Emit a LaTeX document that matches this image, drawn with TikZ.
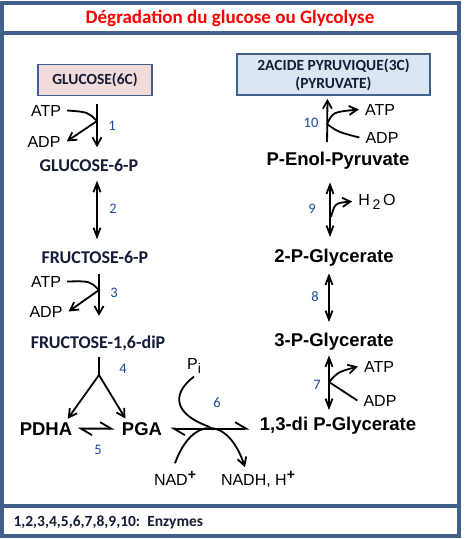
\documentclass[tikz,border=0pt]{standalone}
\usepackage{fontspec}
\setmainfont{Carlito}
\newfontfamily\arialfont{Liberation Sans}
\usetikzlibrary{arrows.meta,positioning}
\definecolor{framecol}{RGB}{65,96,140}
\definecolor{glcfill}{RGB}{242,220,219}
\definecolor{pyrfill}{RGB}{220,230,242}
\definecolor{enzcol}{RGB}{31,73,150}
\definecolor{molcol}{RGB}{20,28,55}
\newcommand{\supplus}{\raisebox{6pt}{\bfseries\fontsize{14}{14}\selectfont +}}
\newcommand{\lowsub}[1]{\raisebox{-4pt}{\fontsize{14}{14}\selectfont #1}}

\begin{document}
\begin{tikzpicture}[x=1pt, y=-1pt,
  frame/.style={draw=framecol, line width=3.5pt},
  titletext/.style={font=\fontsize{19}{22}\selectfont\bfseries, text=red},
  box/.style={draw=framecol, line width=1.8pt, align=center, font=\fontsize{15.5}{18}\selectfont\bfseries, text=molcol},
  mol/.style={anchor=base, font=\fontsize{18}{20}\selectfont\bfseries, text=molcol},
  bigmol/.style={anchor=base, font=\arialfont\fontsize{18.5}{20}\selectfont\bfseries},
  cofac/.style={anchor=base, inner xsep=6pt, font=\arialfont\fontsize{16}{18}\selectfont},
  enz/.style={font=\fontsize{14.5}{16}\selectfont, text=enzcol},
  legend/.style={font=\fontsize{15.5}{17}\selectfont\bfseries, text=molcol},
  side/.style={line width=1.8pt},
  arrow/.style={-{Straight Barb[length=8pt,width=9pt]}, line width=1.8pt},
  both/.style={{Straight Barb[length=9pt,width=7pt]}-{Straight Barb[length=9pt,width=7pt]}, line width=1.8pt},
  harp/.style={{Straight Barb[left,length=11pt,width=13pt]}-{Straight Barb[left,length=11pt,width=13pt]}, line width=1.8pt}
]
\useasboundingbox (0,0) rectangle (465,539);
% frame
\draw[frame] (2,3) rectangle (459,536);
\draw[frame] (2,33) -- (459,33);
\draw[frame] (2,506) -- (459,506);
\node[titletext] (title) at (230,18) {Dégradation du glucose ou Glycolyse};

% start and end
\node[box, fill=glcfill, minimum width=114pt, minimum height=31pt] (glc) at (95,80) {GLUCOSE(6C)};
\node[box, fill=pyrfill, minimum width=193pt, minimum height=41pt] (pyr) at (333.5,74.5) {2ACIDE PYRUVIQUE(3C)\\(PYRUVATE)};

% molecules
\node[mol] (g6p) at (89,171) {GLUCOSE-6-P};
\node[mol] (f6p) at (95,263) {FRUCTOSE-6-P};
\node[mol] (f16p) at (98,348) {FRUCTOSE-1,6-diP};
\node[bigmol] (pdha) at (46,435) {PDHA};
\node[bigmol] (pga) at (142,435) {PGA};
\node[bigmol] (dipg) at (338,430) {1,3-di P-Glycerate};
\node[bigmol] (pg3) at (334,346) {3-P-Glycerate};
\node[bigmol] (pg2) at (334,262) {2-P-Glycerate};
\node[bigmol] (pep) at (338,165) {P-Enol-Pyruvate};

% cofactors
\node[cofac] (atp1) at (46,116) {ATP};
\node[cofac] (adp1) at (44,147) {ADP};
\node[cofac] (atp3) at (46,287) {ATP};
\node[cofac] (adp3) at (46,317) {ADP};
\node[cofac] (pi) at (194,369) {P\lowsub{i}};
\node[cofac] (nad) at (175,485) {NAD\supplus};
\node[cofac] (nadh) at (258,485) {NADH, H\supplus};
\node[cofac] (atp7) at (379,372) {ATP};
\node[cofac] (adp7) at (380,406) {ADP};
\node[cofac] (h2o) at (377,205) {H\,\lowsub{2}\,O};
\node[cofac] (atp10) at (380,115) {ATP};
\node[cofac] (adp10) at (382,143) {ADP};

% enzymes
\node[enz] (e1) at (112,126) {1};
\node[enz] (e2) at (113,209) {2};
\node[enz] (e3) at (114,293) {3};
\node[enz] (e4) at (123,369) {4};
\node[enz] (e5) at (98,450) {5};
\node[enz] (e6) at (217,403) {6};
\node[enz] (e7) at (317,385) {7};
\node[enz] (e8) at (315,297) {8};
\node[enz] (e9) at (312,209) {9};
\node[enz] (e10) at (311,123) {10};

\node[legend, anchor=base west] (legend) at (10,526) {1,2,3,4,5,6,7,8,9,10:\ \ Enzymes};

% junctions
\coordinate (j1) at (97,121);
\coordinate (j3) at (99,290);
\coordinate (j4) at (99,375);
\coordinate (x6) at (210,427);
\coordinate (j7) at (329,382);
\coordinate (j9) at (331,217);
\coordinate (j10) at (327,124);

% step 1
\draw[arrow, shorten <=8pt, shorten >=8pt] ([xshift=2pt]glc.south) -- ([xshift=8pt]g6p.north);
\draw[arrow] (atp1.east) .. controls (88,112) .. (j1) -- (adp1.east);
% step 2
\draw[both, shorten <=6pt, shorten >=8pt] ([xshift=8pt]g6p.south) -- ([xshift=2pt]f6p.north);
% step 3
\draw[arrow, shorten <=7pt, shorten >=16pt] ([xshift=4pt]f6p.south) -- ([xshift=1pt]f16p.north);
\draw[arrow] (atp3.east) .. controls (90,281) .. (j3) -- (adp3.east);
% step 4
\draw[side, shorten <=3pt] ([xshift=1pt]f16p.south) -- (j4);
\draw[arrow] (j4) -- ([xshift=-8pt]pdha.north east);
\draw[arrow] (j4) -- ([xshift=7pt]pga.north west);
% step 5
\draw[harp, shorten <=2pt, shorten >=4pt] (pdha.east) -- (pga.west);
% step 6
\draw[harp, shorten <=5pt, shorten >=7pt] (pga.east) -- (pga.east -| dipg.west);
\draw[side] (pi.south) .. controls (170,395) and (175,415) .. (x6);
\draw[arrow] ([yshift=4pt]nad.north) .. controls (192,416) and (228,416) .. ([xshift=-13pt]nadh.north);
% step 7
\draw[both, shorten <=2pt, shorten >=3pt] ([xshift=-5pt]pg3.south) -- ([xshift=-9pt]dipg.north);
\draw[arrow] (j7) .. controls (338,372) .. (atp7.west);
\draw[side] (j7) -- (adp7.west);
% step 8
\draw[both, shorten <=4pt, shorten >=7pt] ([xshift=-5pt]pg2.south) -- ([xshift=-5pt]pg3.north);
% step 9
\draw[both, shorten <=10pt, shorten >=8pt] ([xshift=-8pt]pep.south) -- ([xshift=-4pt]pg2.north);
\draw[arrow] (j9) .. controls (335,203) .. (h2o.west);
% step 10
\draw[arrow, shorten <=6pt, shorten >=3pt] ([xshift=-11pt]pep.north) -- ([xshift=-6pt]pyr.south);
\draw[arrow] (j10) .. controls (333,112) .. (atp10.west);
\draw[side] (j10) .. controls (338,132) .. (adp10.west);
\end{tikzpicture}
\end{document}
